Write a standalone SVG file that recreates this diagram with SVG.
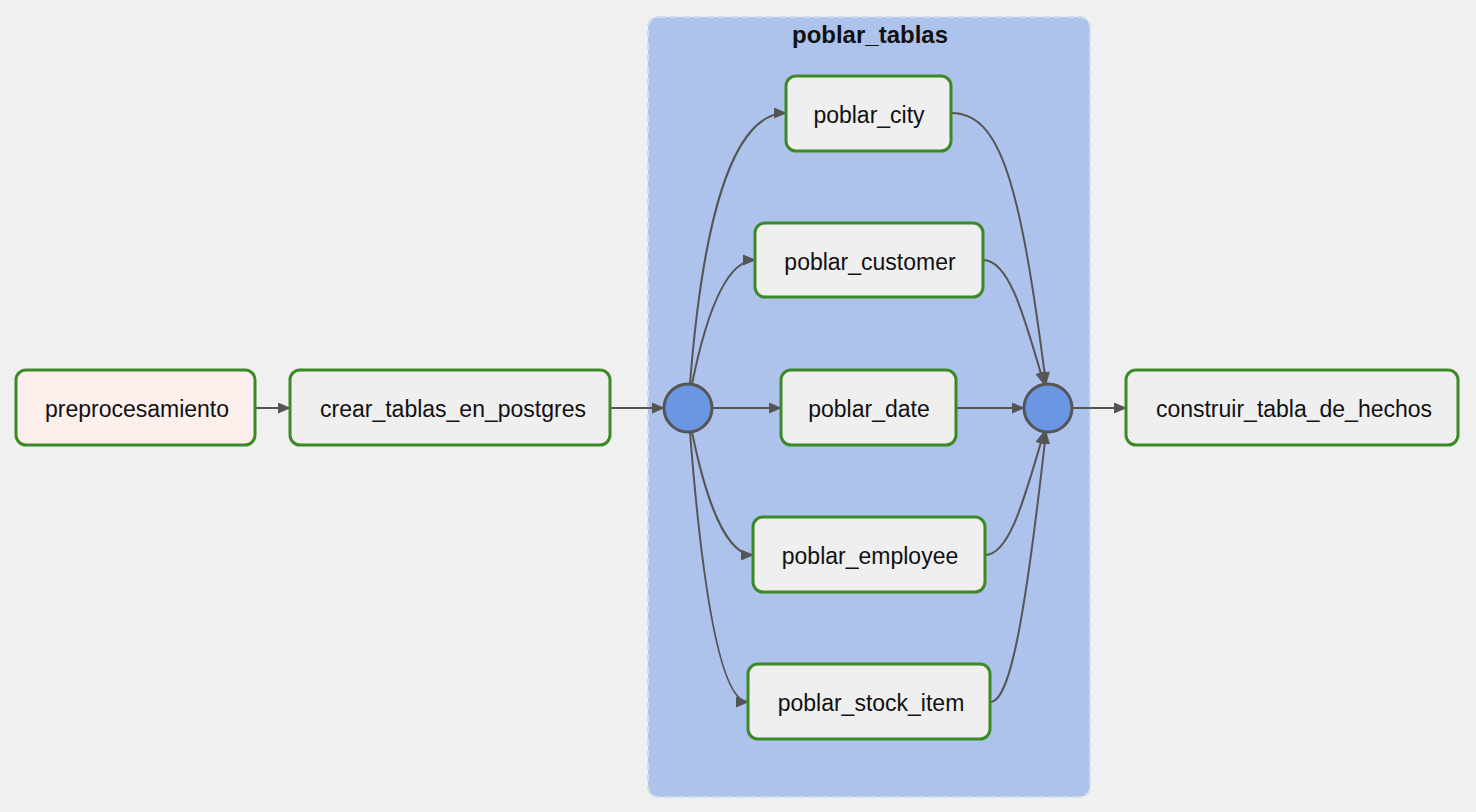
<svg xmlns="http://www.w3.org/2000/svg" width="1476" height="812" viewBox="0 0 1476 812">
<defs>
<marker id="arr" markerWidth="13" markerHeight="11" refX="12" refY="5.5" orient="auto" markerUnits="userSpaceOnUse">
<path d="M0,0 L13,5.5 L0,11 z" fill="#555"/>
</marker>
<style>
.node rect{fill:#efefef;stroke:#3b8a27;stroke-width:3}
.node text{font-family:"Liberation Sans",Arial,sans-serif;font-size:23px;fill:#111;text-anchor:middle;dominant-baseline:central}
.edge{fill:none;stroke:#555;stroke-width:2;marker-end:url(#arr)}
.join{fill:#6a96e4;stroke:#555;stroke-width:3}
</style>
</defs>
<rect width="1476" height="812" fill="#f0f0f0"/>
<g id="poblar_tablas">
<rect x="648" y="17" width="442" height="780" rx="10" fill="#aec3eb" stroke="#d2dcee" stroke-width="2" stroke-dasharray="8,4"/>
<text x="870" y="34" font-family="Liberation Sans,Arial,sans-serif" font-size="24" font-weight="bold" fill="#111" text-anchor="middle" dominant-baseline="central">poblar_tablas</text>
</g>
<g id="connectors">
<path class="edge" d="M255,408 L290,408"/>
<path class="edge" d="M610,408 L664,408"/>
<path class="edge" d="M690,384 C702,230 730,113 786,113"/>
<path class="edge" d="M692,384 C705,320 725,260 755,260"/>
<path class="edge" d="M712,408 L781,408"/>
<path class="edge" d="M692,432 C705,496 725,555 753,555"/>
<path class="edge" d="M690,432 C702,586 720,702 748,702"/>
<path class="edge" d="M951,113 C1000,113 1020,180 1046,384"/>
<path class="edge" d="M983,260 C1010,260 1025,320 1044,384"/>
<path class="edge" d="M956,408 L1024,408"/>
<path class="edge" d="M985,555 C1010,555 1025,496 1044,432"/>
<path class="edge" d="M990,702 C1010,702 1025,620 1046,432"/>
<path class="edge" d="M1072,408 L1126,408"/>
</g>
<g id="preprocesamiento" class="node"><rect x="16" y="370" width="239" height="75" rx="10" style="fill:#fcefec"/><text x="137" y="409">preprocesamiento</text></g>
<g id="crear_tablas_en_postgres" class="node"><rect x="290" y="370" width="320" height="75" rx="10"/><text x="453" y="409">crear_tablas_en_postgres</text></g>
<g id="join_in"><circle class="join" cx="688" cy="408" r="24"/></g>
<g id="poblar_city" class="node"><rect x="786" y="76" width="165" height="75" rx="10"/><text x="869" y="115">poblar_city</text></g>
<g id="poblar_customer" class="node"><rect x="755" y="223" width="228" height="74" rx="10"/><text x="870" y="262">poblar_customer</text></g>
<g id="poblar_date" class="node"><rect x="781" y="370" width="175" height="75" rx="10"/><text x="869" y="409">poblar_date</text></g>
<g id="poblar_employee" class="node"><rect x="753" y="517" width="232" height="75" rx="10"/><text x="870" y="556">poblar_employee</text></g>
<g id="poblar_stock_item" class="node"><rect x="748" y="664" width="242" height="75" rx="10"/><text x="871" y="703">poblar_stock_item</text></g>
<g id="join_out"><circle class="join" cx="1048" cy="408" r="24"/></g>
<g id="construir_tabla_de_hechos" class="node"><rect x="1126" y="370" width="332" height="75" rx="10"/><text x="1294" y="409">construir_tabla_de_hechos</text></g>
</svg>
